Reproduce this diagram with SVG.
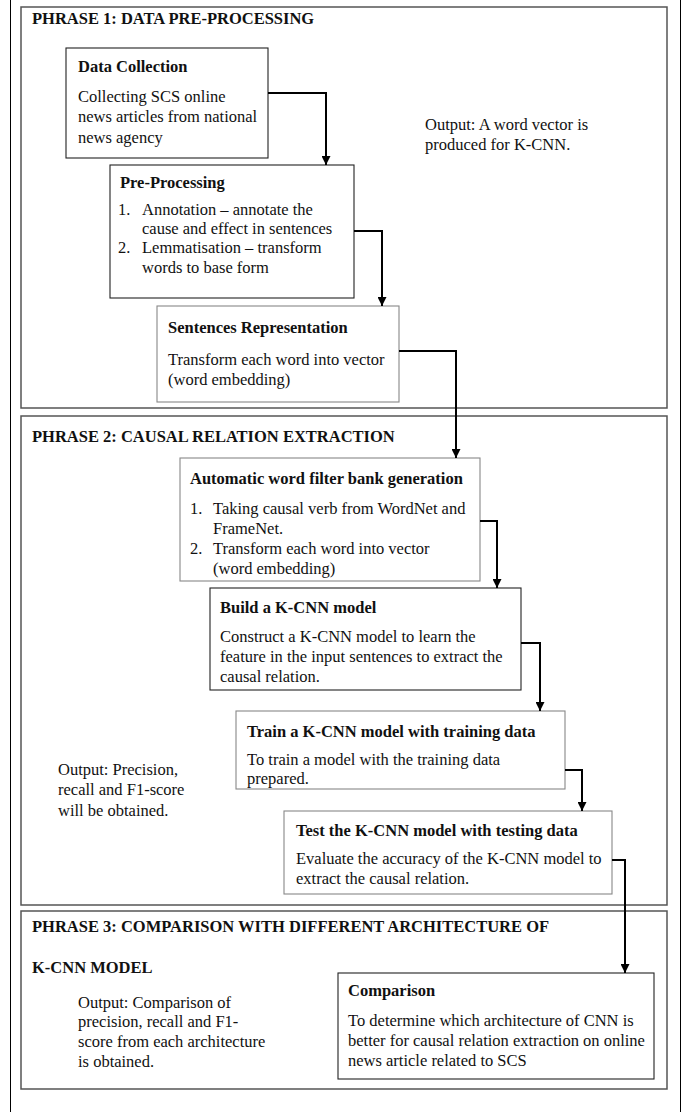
<svg xmlns="http://www.w3.org/2000/svg" width="683" height="1112" viewBox="0 0 683 1112">
<style>
text{font-family:"Liberation Serif","Times New Roman",serif;font-size:16.5px;fill:#111}
.b{font-weight:bold}
.phase{fill:none;stroke:#555;stroke-width:1.5}
.nd{fill:#fff;stroke:#222;stroke-width:1.1}
.ng{fill:#fff;stroke:#888;stroke-width:1.1}
.c{fill:none;stroke:#000;stroke-width:2}
.frame{stroke:#000;stroke-width:1}
</style>
<defs>
<marker id="ah" viewBox="0 0 10 10" refX="10" refY="5" markerWidth="4.5" markerHeight="4.5" orient="auto" markerUnits="strokeWidth">
<path d="M0,0 L10,5 L0,10 z" fill="#000"/>
</marker>
</defs>
<g id="frame">
<line class="frame" x1="10.5" y1="0" x2="10.5" y2="1112"/>
<line class="frame" x1="680.5" y1="0" x2="680.5" y2="1112"/>
</g>
<g id="phase1">
<rect class="phase" x="21" y="7" width="646" height="401"/>
<text class="b" x="32" y="24">PHRASE 1: DATA PRE-PROCESSING</text>
<text x="425" y="130">Output: A word vector is</text>
<text x="425" y="150">produced for K-CNN.</text>
</g>
<g id="phase2">
<rect class="phase" x="21" y="416" width="646" height="489"/>
<text class="b" x="32" y="442">PHRASE 2: CAUSAL RELATION EXTRACTION</text>
<text x="58" y="775">Output: Precision,</text>
<text x="58" y="795">recall and F1-score</text>
<text x="58" y="816">will be obtained.</text>
</g>
<g id="phase3">
<rect class="phase" x="21" y="911" width="646" height="178"/>
<text class="b" x="32" y="932">PHRASE 3: COMPARISON WITH DIFFERENT ARCHITECTURE OF</text>
<text class="b" x="32" y="973">K-CNN MODEL</text>
<text x="78" y="1008">Output: Comparison of</text>
<text x="78" y="1027">precision, recall and F1-</text>
<text x="78" y="1047">score from each architecture</text>
<text x="78" y="1067">is obtained.</text>
</g>
<g id="data-collection">
<rect class="nd" x="66" y="48" width="202" height="110"/>
<text class="b" x="78" y="72">Data Collection</text>
<text x="78" y="102">Collecting SCS online</text>
<text x="78" y="122">news articles from national</text>
<text x="78" y="143">news agency</text>
</g>
<g id="pre-processing">
<rect class="nd" x="110" y="165" width="244" height="133"/>
<text class="b" x="120" y="188">Pre-Processing</text>
<text x="118" y="215">1.</text>
<text x="142" y="215">Annotation – annotate the</text>
<text x="142" y="234">cause and effect in sentences</text>
<text x="118" y="253">2.</text>
<text x="142" y="253">Lemmatisation – transform</text>
<text x="142" y="273">words to base form</text>
</g>
<g id="sentences-representation">
<rect class="ng" x="157" y="306" width="242" height="96"/>
<text class="b" x="168" y="333">Sentences Representation</text>
<text x="168" y="365">Transform each word into vector</text>
<text x="168" y="385">(word embedding)</text>
</g>
<g id="filter-bank">
<rect class="ng" x="180" y="458" width="300" height="123"/>
<text class="b" x="190" y="484">Automatic word filter bank generation</text>
<text x="190" y="514">1.</text>
<text x="213" y="514">Taking causal verb from WordNet and</text>
<text x="213" y="534">FrameNet.</text>
<text x="190" y="554">2.</text>
<text x="213" y="554">Transform each word into vector</text>
<text x="213" y="574">(word embedding)</text>
</g>
<g id="build-model">
<rect class="nd" x="210" y="588" width="311" height="102"/>
<text class="b" x="220" y="613">Build a K-CNN model</text>
<text x="220" y="642">Construct a K-CNN model to learn the</text>
<text x="220" y="662">feature in the input sentences to extract the</text>
<text x="220" y="682">causal relation.</text>
</g>
<g id="train-model">
<rect class="ng" x="236" y="711" width="329" height="78"/>
<text class="b" x="247" y="737">Train a K-CNN model with training data</text>
<text x="247" y="765">To train a model with the training data</text>
<text x="247" y="784">prepared.</text>
</g>
<g id="test-model">
<rect class="ng" x="284" y="811" width="328" height="83"/>
<text class="b" x="296" y="836">Test the K-CNN model with testing data</text>
<text x="296" y="864">Evaluate the accuracy of the K-CNN model to</text>
<text x="296" y="884">extract the causal relation.</text>
</g>
<g id="comparison">
<rect class="nd" x="338" y="973" width="316" height="106"/>
<text class="b" x="348" y="996">Comparison</text>
<text x="348" y="1026">To determine which architecture of CNN is</text>
<text x="348" y="1046">better for causal relation extraction on online</text>
<text x="348" y="1066">news article related to SCS</text>
</g>
<g id="connectors">
<polyline class="c" points="268,93 326,93 326,165" marker-end="url(#ah)"/>
<polyline class="c" points="354,231 382,231 382,306" marker-end="url(#ah)"/>
<polyline class="c" points="399,351 456,351 456,458" marker-end="url(#ah)"/>
<polyline class="c" points="480,521 497,521 497,588" marker-end="url(#ah)"/>
<polyline class="c" points="521,643 540,643 540,711" marker-end="url(#ah)"/>
<polyline class="c" points="565,770 582,770 582,811" marker-end="url(#ah)"/>
<polyline class="c" points="612,860 625,860 625,973" marker-end="url(#ah)"/>
</g>
</svg>
